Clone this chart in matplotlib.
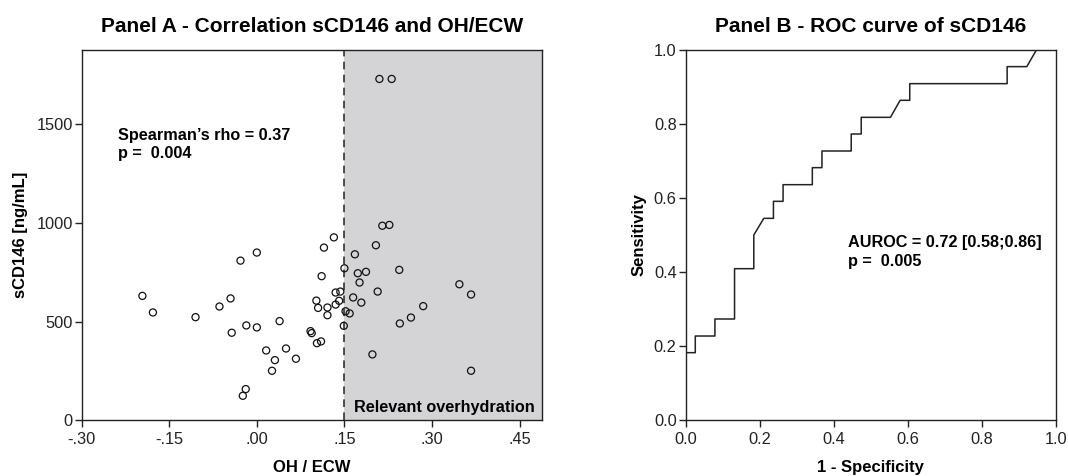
import matplotlib
matplotlib.use('Agg')
import matplotlib.pyplot as plt
from matplotlib.ticker import FuncFormatter

plt.rcParams['font.family'] = ['Liberation Sans', 'DejaVu Sans']

# Panel A - OH/ECW vs sCD146
oh_ecw = [-0.196, -0.178, -0.105, -0.064, -0.045, -0.043, -0.028, -0.018, 0.000, 0.000,
          -0.019, -0.024, 0.016, 0.026, 0.031, 0.039, 0.050, 0.067, 0.092, 0.094,
          0.102, 0.105, 0.103, 0.110, 0.111, 0.115, 0.121, 0.121, 0.132, 0.135,
          0.135, 0.141, 0.143, 0.150, 0.149, 0.152, 0.159, 0.165, 0.168, 0.173,
          0.176, 0.179, 0.187, 0.198, 0.204, 0.207, 0.210, 0.215, 0.227, 0.231,
          0.244, 0.245, 0.264, 0.285, 0.347, 0.367, 0.367]
scd146 = [630, 546, 522, 576, 617, 443, 809, 480, 850, 470,
          157, 123, 353, 250, 304, 502, 363, 311, 451, 441,
          606, 569, 390, 399, 730, 875, 571, 532, 927, 586,
          647, 605, 652, 770, 478, 552, 541, 622, 841, 745,
          698, 596, 752, 333, 887, 652, 1731, 986, 990, 1731,
          762, 490, 520, 578, 689, 637, 250]
cutoff = 0.15
xticks_a = [-0.30, -0.15, 0.00, 0.15, 0.30, 0.45]
yticks_a = [0, 500, 1000, 1500]

# Panel B - ROC curve
fpr = [0, 0, 0.026, 0.026, 0.079, 0.079, 0.132, 0.132, 0.184, 0.184,
       0.211, 0.237, 0.237, 0.263, 0.263, 0.342, 0.342, 0.368, 0.368, 0.447,
       0.447, 0.474, 0.474, 0.553, 0.579, 0.605, 0.605, 0.868, 0.868, 0.921,
       0.947, 1.0]
tpr = [0, 0.182, 0.182, 0.227, 0.227, 0.273, 0.273, 0.409, 0.409, 0.500,
       0.545, 0.545, 0.591, 0.591, 0.636, 0.636, 0.682, 0.682, 0.727, 0.727,
       0.773, 0.773, 0.818, 0.818, 0.864, 0.864, 0.909, 0.909, 0.955, 0.955,
       1.0, 1.0]
ticks_b = [0.0, 0.2, 0.4, 0.6, 0.8, 1.0]

fig = plt.figure(figsize=(10.68, 4.76), dpi=100)
axA = fig.add_axes([0.0765, 0.1176, 0.4307, 0.7774])
axB = fig.add_axes([0.642, 0.1176, 0.3468, 0.7774])

tick_kw = dict(labelsize=11.8, length=5, width=1, colors='#222222')

def fmt_a(v, pos):
    s = '%.2f' % v
    return s.replace('0.', '.', 1)

# --- Panel A
axA.set_xlim(-0.30, 0.488)
axA.set_ylim(0, 1878)
axA.axvspan(cutoff, 0.488, color='#d4d4d6', zorder=0, lw=0)
axA.axvline(cutoff, color='#222222', ls=(0, (5, 3.5)), lw=1.1, zorder=1)
axA.scatter(oh_ecw, scd146, s=26, facecolors='none', edgecolors='#111111',
            linewidths=0.9, zorder=3)
axA.set_xticks(xticks_a)
axA.set_yticks(yticks_a)
axA.xaxis.set_major_formatter(FuncFormatter(fmt_a))
axA.tick_params(**tick_kw)
axA.tick_params(axis='x', pad=3.5)
axA.tick_params(axis='y', pad=1.5)
axA.set_xlabel('OH / ECW', fontsize=12, fontweight='bold', labelpad=9.5)
axA.set_ylabel('sCD146 [ng/mL]', fontsize=12, fontweight='bold', labelpad=6)
axA.set_title('Panel A - Correlation sCD146 and OH/ECW', fontsize=15,
              fontweight='bold', pad=13)
axA.text(-0.238, 1444, 'Spearman\u2019s rho = 0.37', fontsize=11.7, fontweight='bold',
         va='center', ha='left')
axA.text(-0.238, 1351, 'p =  0.004', fontsize=11.7, fontweight='bold',
         va='center', ha='left')
axA.text(0.167, 64, 'Relevant overhydration', fontsize=11.7, fontweight='bold',
         va='center', ha='left')

# --- Panel B
axB.plot(fpr, tpr, color='#222222', lw=1.1)
axB.set_xlim(0, 1)
axB.set_ylim(0, 1)
axB.set_xticks(ticks_b)
axB.set_yticks(ticks_b)
axB.xaxis.set_major_formatter(FuncFormatter(lambda v, p: '%.1f' % v))
axB.yaxis.set_major_formatter(FuncFormatter(lambda v, p: '%.1f' % v))
axB.tick_params(**tick_kw)
axB.tick_params(axis='x', pad=3.5)
axB.tick_params(axis='y', pad=1.5)
axB.set_xlabel('1 - Specificity', fontsize=12, fontweight='bold', labelpad=9.5)
axB.set_ylabel('Sensitivity', fontsize=12, fontweight='bold', labelpad=5)
axB.set_title('Panel B - ROC curve of sCD146', fontsize=15, fontweight='bold', pad=13)
axB.text(0.439, 0.479, 'AUROC = 0.72 [0.58;0.86]', fontsize=11.7, fontweight='bold',
         va='center', ha='left')
axB.text(0.439, 0.428, 'p =  0.005', fontsize=11.7, fontweight='bold',
         va='center', ha='left')

for ax in (axA, axB):
    for sp in ax.spines.values():
        sp.set_linewidth(1.0)
        sp.set_color('#222222')

fig.savefig('out.png', dpi=100)
